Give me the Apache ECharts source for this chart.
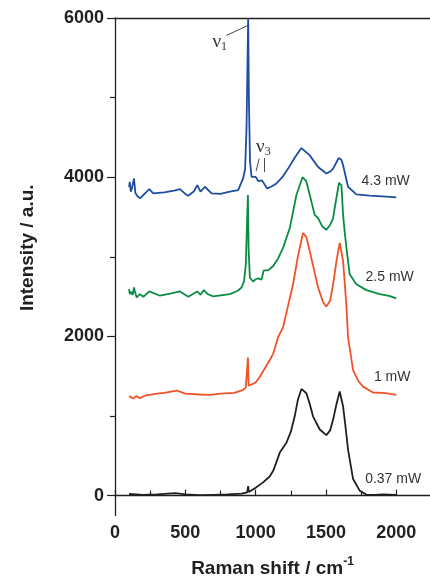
<!DOCTYPE html>
<html>
<head>
<meta charset="utf-8">
<script src="https://cdn.jsdelivr.net/npm/echarts@6.0.0/dist/echarts.min.js"></script>
<style>
  html, body { margin: 0; padding: 0; background: #fff; }
  #chart { width: 430px; height: 583px; }
</style>
</head>
<body>
<div id="chart"></div>
<script>
// 拉曼光谱 — 不同激光功率
const xMajor = [0, 500, 1000, 1500, 2000]
const xMinor = [250, 750, 1250, 1750, 2250]
const yMajor = [0, 2000, 4000, 6000]
const yMinor = [1000, 3000, 5000]

const shift037 = [100,150,200,300,430,500,600,700,800,900,940,947,952,960,1000,1053,1100,1125,1172,1219,1250,1278,1300,1326,1340,1361,1385,1408,1456,1503,1530,1551,1575,1598,1610,1622,1640,1657,1693,1740,1788,1850,1900,2000]
const int037 = [20,15,10,15,30,15,5,10,15,25,40,120,45,50,100,166,240,311,540,664,800,996,1200,1340,1350,1286,1150,996,830,760,820,955,1150,1307,1300,1120,850,581,208,62,12,10,15,10]

const shift1 = [100,110,130,150,178,220,300,350,438,500,600,675,750,850,911,930,940,945,950,959,1000,1030,1065,1100,1125,1160,1195,1230,1266,1300,1337,1360,1385,1444,1480,1503,1530,1551,1575,1598,1610,1622,1645,1657,1693,1730,1764,1835,1900,1950,2000]
const int1 = [1250,1270,1220,1250,1224,1260,1280,1290,1320,1280,1270,1266,1280,1290,1328,1360,1600,1734,1380,1369,1420,1494,1597,1700,1784,1992,2116,2380,2655,3000,3299,3250,3071,2614,2430,2374,2450,2655,2950,3175,3150,2946,2400,1992,1577,1440,1369,1295,1290,1280,1266]

const shift25 = [100,105,115,125,135,145,154,178,201,244,320,400,462,521,585,608,632,660,699,817,870,900,918,930,940,945,950,959,971,982,1000,1018,1042,1058,1089,1125,1160,1195,1243,1290,1333,1360,1385,1420,1444,1475,1503,1530,1551,1562,1593,1610,1622,1634,1650,1669,1716,1788,1882,1950,2000]
const int25 = [2593,2531,2560,2520,2614,2540,2490,2531,2498,2565,2511,2540,2565,2498,2565,2523,2581,2530,2502,2531,2570,2614,2697,2900,3500,3776,3100,2739,2718,2689,2718,2730,2714,2830,2830,2884,2980,3112,3361,3776,4000,3950,3776,3527,3486,3380,3340,3400,3486,3610,3930,3900,3527,3300,3050,2780,2655,2581,2531,2510,2477]

const shift43 = [100,105,112,120,135,145,160,178,213,244,272,350,420,462,500,521,560,585,608,639,687,750,817,876,911,925,935,942,947,952,960,971,982,1001,1018,1030,1045,1058,1082,1110,1148,1190,1231,1280,1326,1340,1385,1444,1503,1530,1551,1591,1610,1622,1657,1716,1811,1900,2000]
const int43 = [3880,3942,3818,3860,3984,3800,3760,3735,3797,3850,3797,3810,3830,3850,3790,3768,3820,3900,3818,3880,3797,3790,3818,3838,3984,4100,4600,5400,6000,5000,4200,4004,3984,4004,3950,3942,3960,3984,3859,3880,3921,4000,4108,4250,4366,4350,4274,4129,4046,4070,4108,4241,4220,4150,3880,3785,3768,3760,3747]

const powerLabels = ['0.37 mW', '1 mW', '2.5 mW', '4.3 mW']
const labelPos = [[1978, 212], [1971, 1494], [1953, 2739], [1925, 3947]]

const zip = (xs, ys) => xs.map((x, i) => [x, ys[i]])

const txtColor = '#231f20'
const boldFont = { fontFamily: 'Liberation Sans', fontWeight: 'bold', color: txtColor }

const myChart = echarts.init(document.getElementById('chart'))

const spectra = [
  { data: zip(shift037, int037), color: '#231f20' },
  { data: zip(shift1, int1), color: '#f0522a' },
  { data: zip(shift25, int25), color: '#0a8c45' },
  { data: zip(shift43, int43), color: '#1f4ea0' }
]

let series = spectra.map((s, i) => {
  let ser = {
    type: 'line',
    data: s.data,
    showSymbol: false,
    symbol: 'none',
    smooth: false,
    silent: true,
    lineStyle: { color: s.color, width: 1.8 },
    markPoint: {
      symbol: 'circle',
      symbolSize: 0,
      silent: true,
      label: {
        show: true,
        position: 'inside',
        fontFamily: 'Liberation Sans',
        fontSize: 14,
        color: '#333',
        formatter: powerLabels[i]
      },
      data: [{ coord: labelPos[i] }]
    }
  }
  return ser
})

// 标注 ν1 / ν3
const nuRich = {
  nu: { fontFamily: 'Liberation Serif', fontSize: 19, color: '#333' },
  sub: { fontFamily: 'Liberation Serif', fontSize: 12, color: '#333', padding: [10, 0, 0, 0] }
}
series[3].markLine = {
  silent: true,
  symbol: 'none',
  label: { show: false },
  lineStyle: { color: '#333', width: 0.9, type: 'solid' },
  data: [
    [{ coord: [792, 5780] }, { coord: [943, 5905] }],
    [{ coord: [1025, 4233] }, { coord: [1003, 4075] }],
    [{ coord: [1058, 4241] }, { coord: [1058, 4065] }]
  ]
}
series[3].markPoint.data = [
  { coord: labelPos[3] },
  {
    coord: [745, 5700],
    label: { show: true, position: 'inside', formatter: '{nu|ν}{sub|1}', rich: nuRich }
  },
  {
    coord: [1055, 4380],
    label: { show: true, position: 'inside', formatter: '{nu|ν}{sub|3}', rich: nuRich }
  }
]

const plainNum = v => String(v)

myChart.setOption({
  animation: false,
  backgroundColor: '#fff',
  grid: { left: 115, right: 0, top: 18, bottom: 63, containLabel: false },
  xAxis: [{
    type: 'value',
    min: 0,
    max: 2240,
    position: 'bottom',
    splitLine: { show: false },
    axisLine: { show: true, lineStyle: { color: txtColor, width: 1.3 } },
    axisTick: { show: true, inside: true, length: 6, customValues: xMajor, lineStyle: { color: txtColor, width: 1.2 } },
    axisLabel: { ...boldFont, fontSize: 18, margin: 9, customValues: xMajor, formatter: plainNum },
    name: '{t|Raman shift / cm}{s|-1}',
    nameLocation: 'middle',
    nameGap: 40,
    nameTextStyle: {
      rich: {
        t: { ...boldFont, fontSize: 19 },
        s: { ...boldFont, fontSize: 12, padding: [0, 0, 14, 0] }
      }
    }
  }, {
    type: 'value',
    min: 0,
    max: 2240,
    position: 'bottom',
    splitLine: { show: false },
    axisLine: { show: false },
    axisTick: { show: true, inside: true, length: 5, customValues: xMinor, lineStyle: { color: txtColor, width: 1.2 } },
    axisLabel: { show: false }
  }, {
    type: 'value',
    min: 0,
    max: 2240,
    position: 'top',
    splitLine: { show: false },
    axisLine: { show: true, lineStyle: { color: txtColor, width: 1.3 } },
    axisTick: { show: false },
    axisLabel: { show: false }
  }],
  yAxis: [{
    type: 'value',
    min: -250,
    max: 6000,
    position: 'left',
    splitLine: { show: false },
    axisLine: { show: true, lineStyle: { color: txtColor, width: 1.3 } },
    axisTick: { show: true, inside: false, length: 8, customValues: yMajor, lineStyle: { color: txtColor, width: 1.2 } },
    axisLabel: { ...boldFont, fontSize: 18, margin: 11, customValues: yMajor, formatter: plainNum },
    name: 'Intensity / a.u.',
    nameLocation: 'middle',
    nameGap: 78,
    nameTextStyle: { ...boldFont, fontSize: 19, padding: [0, 0, 0, 38] }
  }, {
    type: 'value',
    min: -250,
    max: 6000,
    position: 'left',
    splitLine: { show: false },
    axisLine: { show: false },
    axisTick: { show: true, inside: false, length: 5, customValues: yMinor, lineStyle: { color: txtColor, width: 1.2 } },
    axisLabel: { show: false }
  }],
  series: series
})
</script>
</body>
</html>
